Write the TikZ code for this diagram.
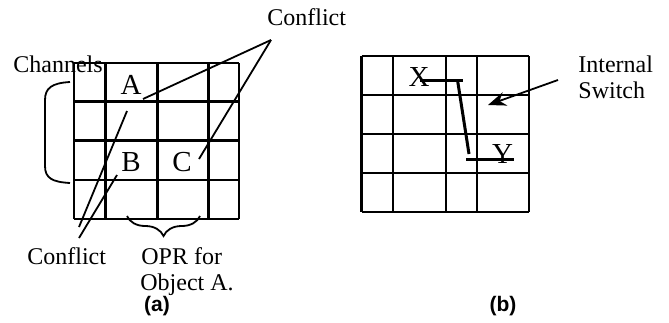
\documentclass[tikz,border=0pt]{standalone}
\usepackage{fontspec}
\setmainfont{Liberation Serif}
\newfontfamily\capfont{Liberation Sans}
\usetikzlibrary{arrows.meta, positioning, decorations.pathreplacing}
\tikzstyle{gridline} = [line width=1.3pt]
\tikzstyle{callout} = [line width=0.9pt]
\tikzstyle{switchline} = [line width=1.5pt]
\tikzstyle{lbl} = [font=\fontsize{12}{13.5}\selectfont, inner sep=0pt, anchor=base west]
\tikzstyle{cell} = [font=\fontsize{14.5}{16}\selectfont, inner sep=0pt]
\tikzstyle{caption} = [font=\capfont\bfseries\fontsize{10.5}{12}\selectfont, inner sep=0pt]
\tikzstyle{arrow} = [line width=0.9pt, -{Stealth[length=9pt, width=7pt]}]

\begin{document}
\begin{tikzpicture}[x=0.5pt, y=-0.5pt]
        \useasboundingbox (0,0) rectangle (669,322);

        % grid (a)
        \foreach \gx in {74,105.3,157.3,208.3,239}
            \draw [gridline] (\gx,63) -- (\gx,219);
        \foreach \gy in {63,101.7,140.3,180,219}
            \draw [gridline] (74,\gy) -- (239,\gy);

        \node (cellA) [cell] at (131,85) {A};
        \node (cellB) [cell] at (131,162) {B};
        \node (cellC) [cell] at (182,162) {C};

        \node (conflictTop) [lbl] at (267,25) {Conflict};
        \node (channels) [lbl] at (13,72) {Channels};
        \node (conflictBot) [lbl] at (27,264) {Conflict};
        \node (opr) [lbl] at (141,264) {OPR for};
        \node (oprObj) [lbl] at (140,290) {Object A.};
        \node (capA) [caption] at (157,306) {(a)};

        \coordinate (topApex) at (271,40);
        \coordinate (endA) at (143,99);
        \coordinate (endC) at (199,159);
        \coordinate (botApexA) at (79,227);
        \coordinate (botApexB) at (79,238);
        \coordinate (endAB) at (127,111);
        \coordinate (endB) at (117,175);

        \draw [callout] (topApex) -- (endA);
        \draw [callout] (topApex) -- (endC);
        \draw [callout] (botApexA) -- (endAB);
        \draw [callout] (botApexB) -- (endB);

        % channel bracket
        \coordinate (chTop) at (70,82);
        \coordinate (chBot) at (70,183);
        \draw [callout] (chTop) .. controls (52,83) and (45,88) .. (45,100)
            -- (45,166) .. controls (45,178) and (52,182) .. (chBot);

        % OPR brace
        \coordinate (oprRight) at (200,216);
        \coordinate (oprLeft) at (127,216);
        \draw [callout, decorate, decoration={brace, amplitude=10pt}] (oprRight) -- (oprLeft);

        % grid (b)
        \foreach \gx in {361.7,393,446,477,529}
            \draw [gridline] (\gx,56) -- (\gx,212);
        \foreach \gy in {56,95,134,173,212}
            \draw [gridline] (361.7,\gy) -- (529,\gy);

        \node (cellX) [cell] at (419,77) {X};
        \node (cellY) [cell] at (502.5,154) {Y};

        \coordinate (xStart) at (420,80);
        \coordinate (xEnd) at (463,80);
        \coordinate (bendTop) at (457.5,80);
        \coordinate (bendBot) at (469,154);
        \coordinate (yStart) at (466,159);
        \coordinate (yEnd) at (513.5,159);
        \draw [switchline] (xStart) -- (xEnd);
        \draw [switchline] (bendTop) -- (bendBot);
        \draw [switchline] (yStart) -- (yEnd);

        \node (internal) [lbl] at (578,72) {Internal};
        \node (switch) [lbl] at (578,98) {Switch};
        \coordinate (arrowTail) at (558,80);
        \coordinate (arrowTip) at (488,105);
        \draw [arrow] (arrowTail) -- (arrowTip);

        \node (capB) [caption] at (503,306) {(b)};

    \end{tikzpicture}
\end{document}
